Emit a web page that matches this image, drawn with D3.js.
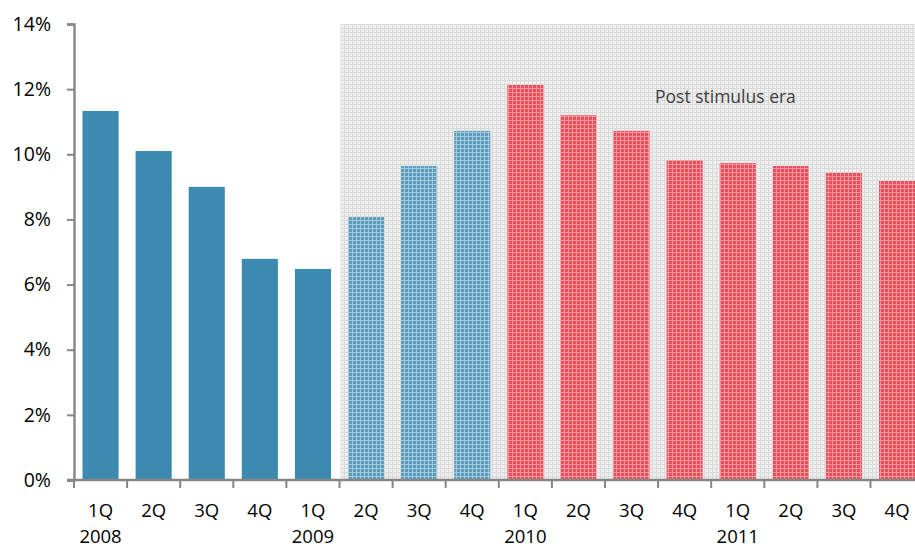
<!DOCTYPE html>
<html><head><meta charset="utf-8">
<script src="https://cdn.jsdelivr.net/npm/d3@7"></script>
<style>body{margin:0;background:#fff}svg{display:block}text{font-family:"Open Sans",Lato,"Liberation Sans",sans-serif}</style>
</head><body><div id="chart"></div>
<script>
const quarters = ["1Q","2Q","3Q","4Q","1Q","2Q","3Q","4Q","1Q","2Q","3Q","4Q","1Q","2Q","3Q","4Q"];
const years = ["2008","","","","2009","","","","2010","","","","2011","","",""];
const values = [11.33,10.1,9.0,6.79,6.48,8.07,9.64,10.72,12.13,11.2,10.72,9.82,9.73,9.64,9.43,9.18];
// series type: 0 = solid blue, 1 = patterned blue, 2 = patterned red
const styles = [0,0,0,0,0,1,1,1,2,2,2,2,2,2,2,2];
const yTicks = [0,2,4,6,8,10,12,14];
const shadeStartIndex = 5;
const annotation = "Post stimulus era";

const W = 915, H = 549;
const m = {left:74, top:24, bottom:69};
const step = 53.1;
const x = d3.scaleBand().domain(d3.range(values.length)).range([m.left, m.left + step*values.length]).paddingInner(0.32).paddingOuter(0.16);
const y = d3.scaleLinear().domain([0,14]).range([H-m.bottom, m.top]);

const svg = d3.select("#chart").append("svg").attr("width",W).attr("height",H);
const defs = svg.append("defs");
function grid(id, base, line, op){
  const p = defs.append("pattern").attr("id",id).attr("patternUnits","userSpaceOnUse").attr("width",4).attr("height",4);
  p.append("rect").attr("width",4).attr("height",4).attr("fill",base);
  p.append("rect").attr("x",0).attr("y",0).attr("width",4).attr("height",1).attr("fill",line).attr("opacity",op);
  p.append("rect").attr("x",0).attr("y",0).attr("width",1).attr("height",4).attr("fill",line).attr("opacity",op);
}
grid("bg","#eeeeee","#dadada",1);
grid("pb","#5b9dbd","#bcd7e5",0.7);
grid("pr","#e8505d","#f4adb3",0.7);

// shaded region
const bandStep = x.step();
const shadeX = m.left + bandStep*shadeStartIndex;
svg.append("rect").attr("x",shadeX+1).attr("y",y(14)).attr("width",W-shadeX).attr("height",y(0)-y(14)).attr("fill","url(#bg)");

svg.append("text").attr("x",655).attr("y",103).attr("fill","#404040").attr("font-size",17.5).text(annotation);

const fills = ["#3d8ab0","url(#pb)","url(#pr)"];
svg.selectAll("rect.bar").data(values).join("rect").attr("class","bar")
  .attr("x",(d,i)=>x(i)).attr("width",x.bandwidth())
  .attr("y",d=>y(d)).attr("height",d=>y(0)-y(d))
  .attr("fill",(d,i)=>fills[styles[i]]);

const FS = 19.5, FX = 18.5;
// y axis
const ya = svg.append("g").attr("transform",`translate(${m.left},0)`)
  .call(d3.axisLeft(y).tickValues(yTicks).tickFormat(d=>d+"%").tickSize(7).tickPadding(16));
ya.select(".domain").attr("stroke","#868686").attr("stroke-width",2.4);
ya.selectAll(".tick line").attr("stroke","#868686").attr("stroke-width",2);
ya.selectAll(".tick text").attr("font-size",FS).attr("fill","#000").attr("font-family","'Open Sans',Lato,'Liberation Sans',sans-serif");

// x axis
const xa = svg.append("g").attr("transform",`translate(0,${y(0)})`);
xa.append("line").attr("x1",m.left-7).attr("x2",W).attr("stroke","#868686").attr("stroke-width",2.4);
const tickXs = d3.range(values.length+1).map(i=>m.left+bandStep*i).filter(v=>v<=W);
xa.selectAll("line.t").data(tickXs).join("line").attr("class","t").attr("x1",d=>d).attr("x2",d=>d).attr("y1",0).attr("y2",8).attr("stroke","#868686").attr("stroke-width",2);
xa.selectAll("text.q").data(quarters).join("text").attr("class","q")
  .attr("x",(d,i)=>x(i)+x.bandwidth()/2).attr("y",37).attr("text-anchor","middle").attr("font-size",FX).text(d=>d);
xa.selectAll("text.yr").data(years).join("text").attr("class","yr")
  .attr("x",(d,i)=>x(i)+x.bandwidth()/2).attr("y",63).attr("text-anchor","middle").attr("font-size",FX).text(d=>d);
</script></body></html>
